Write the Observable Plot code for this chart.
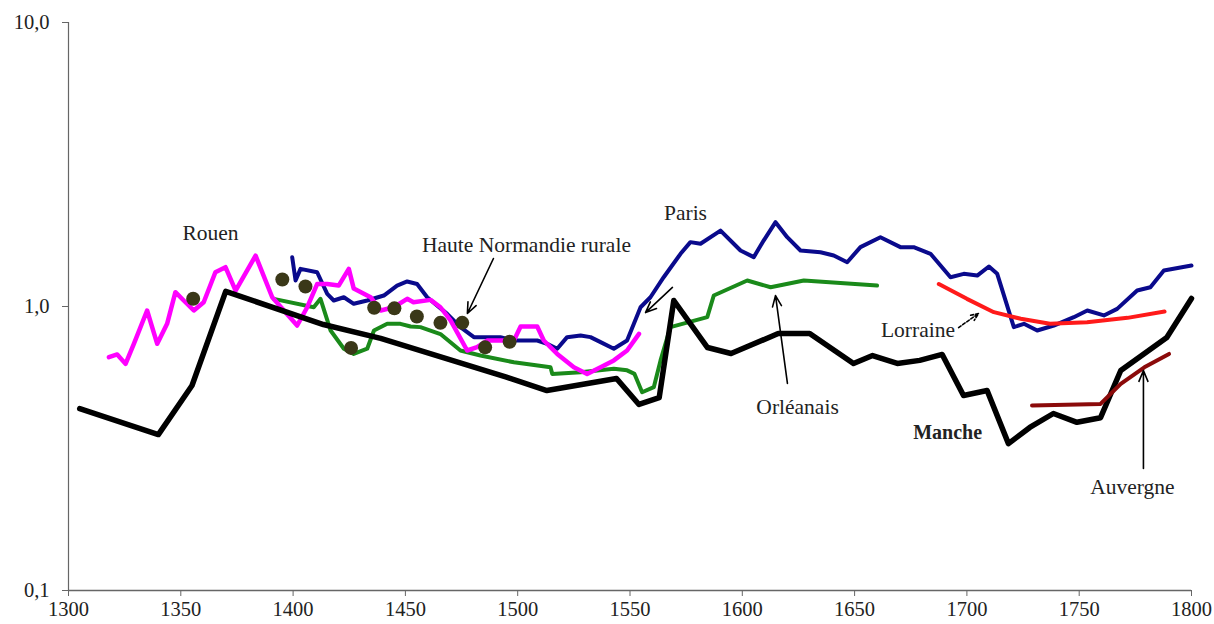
<!DOCTYPE html>
<html>
<head>
<meta charset="utf-8">
<script src="https://cdn.jsdelivr.net/npm/d3@7"></script>
<script src="https://cdn.jsdelivr.net/npm/@observablehq/plot@0.6"></script>
<style>
  html, body { margin: 0; padding: 0; background: #fff; }
  #chart { width: 1214px; height: 624px; }
</style>
</head>
<body>
<div id="chart"></div>
<script>
// ---- Data ----
const xTicks = [1300, 1350, 1400, 1450, 1500, 1550, 1600, 1650, 1700, 1750, 1800];
const yTicks = [0.1, 1, 10];

const mancheYears  = [1305, 1340, 1355, 1370, 1413.5, 1439, 1495, 1513, 1544, 1554, 1563, 1569.5, 1584.5, 1595, 1616, 1630, 1649.5, 1658, 1669, 1679, 1689, 1698.5, 1709, 1718.5, 1728, 1738.5, 1749, 1759.5, 1768.5, 1789, 1800];
const mancheValues = [0.437, 0.354, 0.527, 1.13, 0.864, 0.772, 0.564, 0.506, 0.558, 0.452, 0.478, 1.05, 0.717, 0.683, 0.803, 0.803, 0.630, 0.672, 0.630, 0.646, 0.678, 0.486, 0.506, 0.329, 0.375, 0.420, 0.391, 0.406, 0.595, 0.778, 1.067];

const grayYears  = [1370, 1413.5];
const grayValues = [1.13, 0.864];

const rouenYears  = [1318, 1321.7, 1325.4, 1329.1, 1335, 1339.5, 1343.9, 1347.6, 1351.3, 1355.8, 1360.2, 1365.4, 1369.9, 1374.4, 1383.3, 1390.7, 1401.8, 1406.3, 1410.7, 1415.2, 1420.3, 1424.8, 1427, 1434.5, 1439, 1444.8, 1450.8, 1453.6, 1461.2, 1465.6, 1470.1, 1477.5, 1481.9, 1486.4, 1498.3, 1501.3, 1508.7, 1511.6, 1517.6, 1525, 1530.9, 1536.9, 1542.8, 1548.7, 1554];
const rouenValues = [0.663, 0.678, 0.628, 0.739, 0.968, 0.739, 0.869, 1.123, 1.05, 0.968, 1.035, 1.32, 1.375, 1.138, 1.51, 1.078, 0.857, 0.994, 1.20, 1.20, 1.185, 1.357, 1.156, 1.078, 0.968, 0.994, 1.064, 1.035, 1.055, 0.994, 0.893, 0.700, 0.719, 0.759, 0.759, 0.850, 0.850, 0.759, 0.681, 0.611, 0.579, 0.611, 0.646, 0.700, 0.801];

const parisYears  = [1399.6, 1401.1, 1403.3, 1410.7, 1415.2, 1418.1, 1422.6, 1427, 1433, 1440.4, 1446.3, 1450.8, 1455.2, 1459.7, 1468.6, 1474.5, 1480.5, 1492.3, 1498.3, 1508.7, 1513.1, 1517.6, 1522, 1528, 1532.4, 1536.9, 1542.8, 1548.7, 1554.7, 1559.1, 1565, 1572.5, 1576.9, 1581.4, 1590.3, 1599.2, 1605.1, 1609.5, 1614.8, 1620, 1625.9, 1634.8, 1640.7, 1646.7, 1652.6, 1661.5, 1670.4, 1676.3, 1683.8, 1692.7, 1698.6, 1704.6, 1709.8, 1713.5, 1720.9, 1725.4, 1731.3, 1738.7, 1747.6, 1753.6, 1761, 1766.9, 1775.8, 1781.7, 1787.7, 1800];
const parisValues = [1.49, 1.235, 1.357, 1.32, 1.108, 1.05, 1.078, 1.022, 1.05, 1.093, 1.185, 1.225, 1.20, 1.078, 0.942, 0.846, 0.780, 0.780, 0.759, 0.759, 0.739, 0.710, 0.780, 0.790, 0.780, 0.749, 0.710, 0.759, 0.994, 1.078, 1.268, 1.533, 1.685, 1.663, 1.851, 1.575, 1.492, 1.707, 1.981, 1.754, 1.575, 1.552, 1.512, 1.432, 1.618, 1.754, 1.618, 1.618, 1.533, 1.268, 1.303, 1.285, 1.383, 1.303, 0.846, 0.869, 0.823, 0.857, 0.917, 0.968, 0.930, 0.981, 1.138, 1.169, 1.339, 1.394];

const orleansYears  = [1391.4, 1409.2, 1412.2, 1416.7, 1422.6, 1427, 1433, 1436, 1441.9, 1447.8, 1452.3, 1456.7, 1465.6, 1474.5, 1483.4, 1498.3, 1514.6, 1515.4, 1528, 1542.8, 1548.7, 1552, 1555.4, 1560.6, 1563.6, 1568, 1584.4, 1587.3, 1602.2, 1612.6, 1627.4, 1660];
const orleansValues = [1.064, 0.994, 1.064, 0.823, 0.710, 0.681, 0.710, 0.823, 0.869, 0.869, 0.850, 0.846, 0.800, 0.700, 0.672, 0.636, 0.611, 0.579, 0.587, 0.604, 0.596, 0.579, 0.499, 0.520, 0.646, 0.846, 0.917, 1.093, 1.235, 1.169, 1.235, 1.185];

const lorraineYears  = [1687.5, 1700, 1712, 1724, 1737, 1753.5, 1771.5, 1788];
const lorraineValues = [1.20, 1.064, 0.955, 0.905, 0.869, 0.880, 0.912, 0.960];

const auvergneYears  = [1729, 1759.5, 1768.5, 1779, 1790];
const auvergneValues = [0.448, 0.454, 0.534, 0.611, 0.681];

const hnrYears  = [1355.5, 1395.2, 1405.5, 1425.8, 1436.1, 1445.1, 1455.1, 1465.6, 1475.3, 1485.5, 1496.4];
const hnrValues = [1.065, 1.245, 1.176, 0.715, 0.99, 0.985, 0.922, 0.876, 0.876, 0.718, 0.751];

const labelTexts  = ["Rouen", "Haute Normandie rurale", "Paris", "Orléanais", "Lorraine", "Auvergne"];
const labelYears  = [1363.2, 1503.9, 1574.7, 1624.6, 1678.2, 1773.7];
const labelValues = [1.807, 1.64, 2.125, 0.441, 0.823, 0.231];

const boldTexts  = ["Manche"];
const boldYears  = [1691.4];
const boldValues = [0.360];

const arrowFromYears  = [1489.2, 1568.9, 1620.1, 1778.6];
const arrowFromValues = [1.476, 1.167, 0.536, 0.269];
const arrowToYears    = [1477.6, 1556.9, 1614.8, 1778.6];
const arrowToValues   = [0.945, 0.952, 1.093, 0.595];

const dashArrowFromYears  = [1696.3];
const dashArrowFromValues = [0.843];
const dashArrowToYears    = [1705.2];
const dashArrowToValues   = [0.945];

// ---- Build tables ----
const toRows = (xs, ys) => xs.map((x, i) => ({x, y: ys[i]}));
const manche = toRows(mancheYears, mancheValues);
const gray = toRows(grayYears, grayValues);
const rouen = toRows(rouenYears, rouenValues);
const paris = toRows(parisYears, parisValues);
const orleans = toRows(orleansYears, orleansValues);
const lorraine = toRows(lorraineYears, lorraineValues);
const auvergne = toRows(auvergneYears, auvergneValues);
const hnr = toRows(hnrYears, hnrValues);
const labels = labelTexts.map((t, i) => ({t, x: labelYears[i], y: labelValues[i]}));
const bolds = boldTexts.map((t, i) => ({t, x: boldYears[i], y: boldValues[i]}));
const arrows = arrowFromYears.map((x, i) => ({x1: x, y1: arrowFromValues[i], x2: arrowToYears[i], y2: arrowToValues[i]}));
const dashArrows = dashArrowFromYears.map((x, i) => ({x1: x, y1: dashArrowFromValues[i], x2: dashArrowToYears[i], y2: dashArrowToValues[i]}));

const lineOpts = (color, w) => ({x: "x", y: "y", stroke: color, strokeWidth: w, strokeLinejoin: "round", strokeLinecap: "round"});

const chart = Plot.plot({
  width: 1214,
  height: 624,
  marginLeft: 68,
  marginRight: 23,
  marginTop: 22,
  marginBottom: 34,
  style: {fontFamily: "'Liberation Serif', 'Times New Roman', serif", fontSize: "20px", color: "#000", background: "#fff"},
  x: {domain: [1300, 1800]},
  y: {type: "log", domain: [0.1, 10]},
  marks: [
    Plot.ruleX([1300], {stroke: "#666", strokeWidth: 1.2}),
    Plot.ruleY([0.1], {stroke: "#666", strokeWidth: 1.5}),
    Plot.axisX({ticks: xTicks, tickFormat: d => String(d), tickSize: 6, tickPadding: 5, fontSize: 20.5, stroke: "#666", fill: "#222", label: null}),
    Plot.axisY({ticks: yTicks, tickFormat: d => d.toFixed(1).replace(".", ","), tickSize: 6, tickPadding: 13, fontSize: 20.5, stroke: "#666", fill: "#222", label: null}),
    Plot.line(gray, lineOpts("#a6a6a6", 4)),
    Plot.line(orleans, lineOpts("#1a8a1a", 4)),
    Plot.line(paris, lineOpts("#0a0a8c", 4)),
    Plot.line(rouen, lineOpts("#ff00ff", 4.5)),
    Plot.line(manche, lineOpts("#000000", 5.5)),
    Plot.line(lorraine, lineOpts("#ff1a1a", 4)),
    Plot.line(auvergne, lineOpts("#8b0a0a", 4)),
    Plot.dot(hnr, {x: "x", y: "y", r: 7, fill: "#3a3818", stroke: "none"}),
    Plot.arrow(arrows, {x1: "x1", y1: "y1", x2: "x2", y2: "y2", stroke: "#000", strokeWidth: 1.6, headLength: 11, headAngle: 45}),
    Plot.arrow(dashArrows, {x1: "x1", y1: "y1", x2: "x2", y2: "y2", stroke: "#000", strokeWidth: 1.6, strokeDasharray: "3,2", headLength: 11, headAngle: 45}),
    Plot.text(labels, {x: "x", y: "y", text: "t", fontSize: 21.5, fill: "#222"}),
    Plot.text(bolds, {x: "x", y: "y", text: "t", fontSize: 20, fontWeight: "bold", fill: "#222"})
  ]
});
document.getElementById("chart").appendChild(chart);
</script>
</body>
</html>
